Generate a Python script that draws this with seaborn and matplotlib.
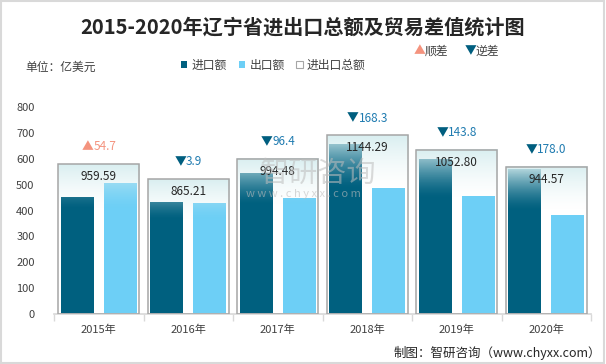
import numpy as np
import pandas as pd
import matplotlib
matplotlib.use("Agg")
import matplotlib.pyplot as plt
from matplotlib.patches import Patch, Rectangle
from matplotlib.offsetbox import TextArea, HPacker, AnnotationBbox
import seaborn as sns

# data (亿美元)
years = ["2015年", "2016年", "2017年", "2018年", "2019年", "2020年"]
imports = [452.4, 434.6, 545.4, 656.3, 598.3, 561.3]
exports = [507.1, 430.7, 449.0, 488.0, 454.5, 383.3]
totals = [959.59, 865.21, 994.48, 1144.29, 1052.80, 944.57]
balance = [54.7, -3.9, -96.4, -168.3, -143.8, -178.0]

C_IMP = "#00607f"
C_EXP = "#6dcff6"
C_UP = "#f4937e"
C_DOWN = "#005e7f"
C_DOWN_TXT = "#1f7bb0"
C_TXT = "#404040"

sns.set_theme(style="white")
plt.rcParams['font.family'] = ['Noto Sans CJK SC', 'DejaVu Sans']

df = pd.DataFrame({"year": years * 2,
                   "value": imports + exports,
                   "kind": ["进口额"] * len(years) + ["出口额"] * len(years)})
df_tot = pd.DataFrame({"year": years, "total": totals})

fig = plt.figure(figsize=(6.06, 3.64), dpi=100)
ax = fig.add_axes([54 / 606, 1 - 314 / 364, 537 / 606, 207 / 364])

sns.barplot(data=df, x="year", y="value", hue="kind", order=years,
            palette=[C_IMP, C_EXP], width=0.96, gap=0.23, legend=False,
            saturation=1, ax=ax, linewidth=0)
ax.set_ylim(0, 800)
ax.set_xlim(-0.5, 5.5)
ax.set_yticks(range(0, 801, 100))
ax.set_xlabel("")
ax.set_ylabel("")
ax.tick_params(axis="y", labelsize=8, colors=C_TXT, length=0, pad=14)
ax.tick_params(axis="x", labelsize=8, colors=C_TXT, length=0, pad=8)
ax.set_xticks(np.arange(-0.5, 6, 1), minor=True)
ax.tick_params(axis="x", which="minor", length=5, color="#d9d9d9", width=1, bottom=True)
for s in ["top", "right", "left"]:
    ax.spines[s].set_visible(False)
ax.spines["bottom"].set_color("#d9d9d9")

# total boxes on a twin axis (scaled so 1 unit = 0.603 primary units)
ax2 = ax.twinx()
sns.barplot(data=df_tot, x="year", y="total", order=years, color="white",
            width=0.91, ax=ax2, edgecolor="#a6a6a6", linewidth=1.1)
top2 = 800 / 0.603
for p in ax2.patches:
    p.set_facecolor("none")
    p.set_zorder(5)
    x0, w, h = p.get_x(), p.get_width(), p.get_height()
    t = np.linspace(0, 1, 200)
    a = 0.92 * np.clip(1 - t / 0.3, 0, 1) ** 1.5
    grad = np.zeros((200, 1, 4))
    grad[:, 0, 0] = 0.84
    grad[:, 0, 1] = 0.93
    grad[:, 0, 2] = 0.94
    grad[:, 0, 3] = a
    ax2.imshow(grad, extent=[x0, x0 + w, 0, h], aspect="auto", zorder=4,
               interpolation="bilinear")
ax2.set_ylim(0, top2)
ax2.set_xlim(-0.5, 5.5)
ax2.set_yticks([])
ax2.set_ylabel("")
for s in ["top", "right", "left", "bottom"]:
    ax2.spines[s].set_visible(False)

for i, (tot, bal) in enumerate(zip(totals, balance)):
    ax2.annotate(f"{tot:.2f}", (i, tot), xytext=(0, -9), textcoords="offset points",
                 ha="center", va="center", fontsize=8.5, color="#262626", zorder=6)
    if bal >= 0:
        tri = TextArea("▲", textprops=dict(color=C_UP, fontsize=8.5))
        num = TextArea(f"{abs(bal):.1f}", textprops=dict(color=C_UP, fontsize=8.5))
    else:
        tri = TextArea("▼", textprops=dict(color=C_DOWN, fontsize=8.5))
        num = TextArea(f"{abs(bal):.1f}", textprops=dict(color=C_DOWN_TXT, fontsize=8.5))
    pack = HPacker(children=[tri, num], pad=0, sep=0, align="baseline")
    ab = AnnotationBbox(pack, (i, tot), xybox=(0, 12.5), xycoords="data",
                        boxcoords="offset points", frameon=False, box_alignment=(0.5, 0.5))
    ax2.add_artist(ab)

# watermark
fig.text(318 / 606, 1 - 174 / 364, "智研咨询", fontsize=21, color="#bdbdbd", alpha=0.55,
         ha="center", va="center", zorder=10)
fig.text(303 / 606, 1 - 194 / 364, "w w w . c h y x x . c o m", fontsize=8, color="#bdbdbd",
         alpha=0.6, ha="center", va="center", zorder=10)

# title and notes
fig.text(303 / 606, 1 - 27 / 364, "2015-2020年辽宁省进出口总额及贸易差值统计图",
         fontsize=14.5, fontweight="bold", color="#262626", ha="center", va="center")
fig.text(25 / 606, 1 - 67 / 364, "单位：亿美元", fontsize=8.5, color=C_TXT, va="center")
fig.text(601 / 606, 1 - 353 / 364, "制图：智研咨询（www.chyxx.com）", fontsize=9,
         color="#262626", ha="right", va="center")

# legends
handles = [Patch(facecolor=C_IMP, edgecolor="none"),
           Patch(facecolor=C_EXP, edgecolor="none"),
           Patch(facecolor="white", edgecolor="#a6a6a6", linewidth=0.8)]
fig.legend(handles, ["进口额", "出口额", "进出口总额"], loc="center left",
           bbox_to_anchor=(181 / 606, 1 - 65 / 364), ncol=3, frameon=False,
           fontsize=8.5, handlelength=0.55, handleheight=0.55, handletextpad=0.35,
           columnspacing=1.0, labelcolor=C_TXT, borderpad=0, borderaxespad=0)
fig.text(414 / 606, 1 - 51 / 364, "▲", fontsize=8.5, color=C_UP, va="center")
fig.text(425 / 606, 1 - 51 / 364, "顺差", fontsize=8.5, color=C_TXT, va="center")
fig.text(465 / 606, 1 - 51 / 364, "▼", fontsize=8.5, color=C_DOWN, va="center")
fig.text(476 / 606, 1 - 51 / 364, "逆差", fontsize=8.5, color=C_TXT, va="center")

# light frame around the picture
fig.patches.append(Rectangle((0.002, 0.003), 0.995, 0.994, transform=fig.transFigure,
                             fill=False, edgecolor="#d9d9d9", linewidth=1.5))

fig.savefig("out.png", dpi=100)
